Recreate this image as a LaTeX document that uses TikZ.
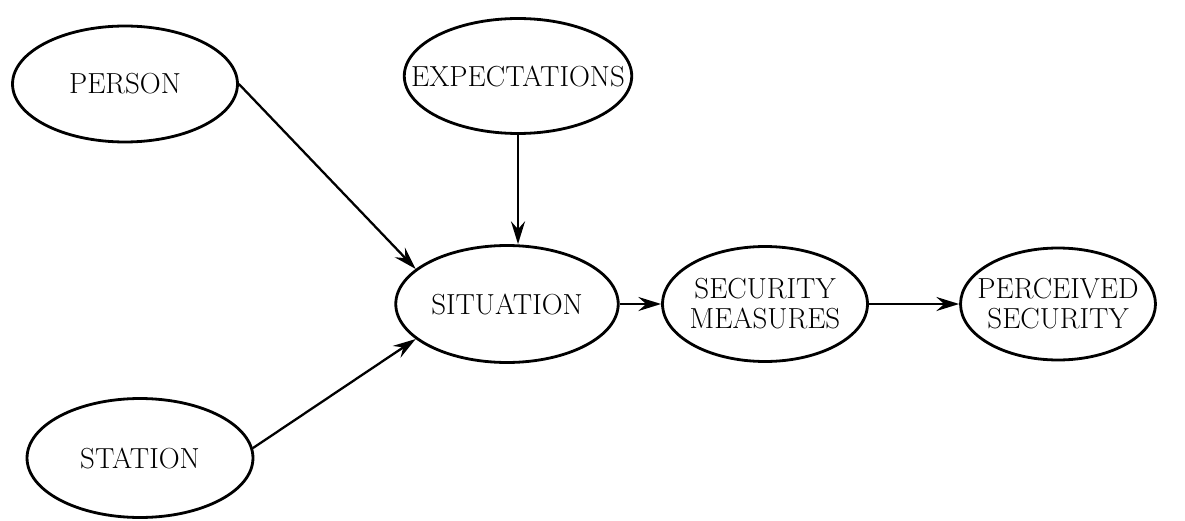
\documentclass[tikz,border=0pt]{standalone}
\usetikzlibrary{shapes.geometric,arrows.meta}

\begin{document}
\begin{tikzpicture}[x=0.02cm, y=-0.02cm]
    \tikzset{
        oval/.style={ellipse, draw, line width=1.6pt, inner sep=-20pt, align=center,
            font=\fontsize{16.5}{17}\selectfont},
        link/.style={line width=1.3pt, -{Stealth[length=13pt, width=8pt, inset=4.5pt]}}
    }
    \useasboundingbox (0,0) rectangle (1185,520);
    % Main vertices (ellipses)
    \node[oval, minimum width=4.5cm, minimum height=2.32cm] (P) at (125,84) {PERSON};
    \node[oval, minimum width=4.55cm, minimum height=2.3cm] (E) at (518,76) {EXPECTATIONS};
    \node[oval, minimum width=4.45cm, minimum height=2.34cm] (S) at (507,304) {SITUATION};
    \node[oval, minimum width=4.1cm, minimum height=2.3cm] (M) at (765,304) {SECURITY\\MEASURES};
    \node[oval, minimum width=3.9cm, minimum height=2.24cm] (Q) at (1058,304) {PERCEIVED\\SECURITY};
    \node[oval, minimum width=4.52cm, minimum height=2.38cm] (T) at (140,458) {STATION};
    % Arrows into the situation and on to the result
    \draw[link] (P.east) -- (S.159);
    \draw[link] (E.south) -- (E.south |- S.north);
    \draw[link] (T.5) -- (S.201);
    \draw[link] (S) -- (M);
    \draw[link] (M) -- (Q);
\end{tikzpicture}
\end{document}
